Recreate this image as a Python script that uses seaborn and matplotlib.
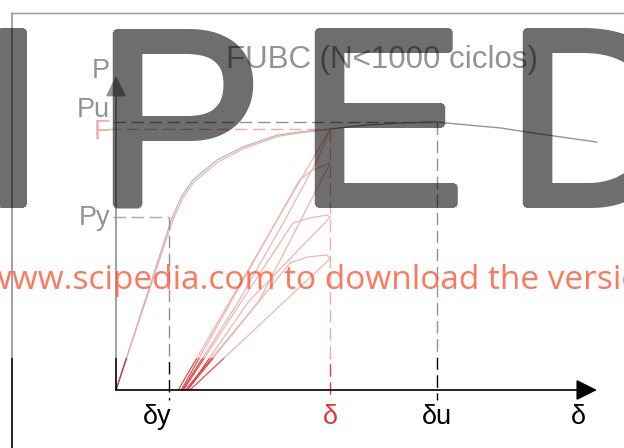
import matplotlib
matplotlib.use("Agg")
import matplotlib.pyplot as plt
import seaborn as sns
import pandas as pd
import numpy as np
from matplotlib.patches import Rectangle
from matplotlib.lines import Line2D

# characteristic values of the diagram (normalised: Pu = 1, delta_y ~ 1)
Py, F, Pu = 0.646, 0.974, 1.0
d_y, d_F, d_u, d_end = 1.04, 4.196, 6.294, 9.43
P_top = 1.172

# loading envelope up to F (two nearly coincident traces)
env_d = [0, 1.02, 1.10, 1.29, 1.51, 1.98, 2.49, 3.16, 3.61, 4.20]
env_p = [0, 0.597, 0.642, 0.724, 0.784, 0.858, 0.907, 0.951, 0.963, 0.974]
env2_d = [0, 1.05, 1.13, 1.32, 1.54, 2.01, 2.52, 3.19, 3.63, 4.18]
env2_p = [0, 0.597, 0.640, 0.720, 0.779, 0.852, 0.902, 0.947, 0.960, 0.972]

# black curve after F (peak at Pu, then softening)
post_d = [4.20, 4.92, 5.57, 6.29, 6.88, 7.53, 8.18, 9.43]
post_p = [0.974, 0.989, 0.996, 1.0, 0.989, 0.978, 0.959, 0.925]

# unloading / reloading loops (red)
loop1_d = [1.22, 4.20, 3.95, 3.30, 2.40, 1.30]
loop1_p = [0.0, 0.974, 0.86, 0.63, 0.33, 0.0]
loop2_d = [1.28, 3.60, 3.86, 4.20, 2.80, 1.36]
loop2_p = [0.0, 0.784, 0.821, 0.847, 0.33, 0.0]
loop3_d = [1.32, 3.47, 3.80, 4.14, 4.20, 2.60, 1.40]
loop3_p = [0.0, 0.623, 0.642, 0.653, 0.645, 0.33, 0.0]
loop4_d = [1.40, 3.41, 3.75, 4.14, 4.20, 1.45]
loop4_p = [0.0, 0.474, 0.496, 0.504, 0.49, 0.0]

sns.set_theme(style="white")
plt.rcParams["font.family"] = ["Liberation Sans", "DejaVu Sans"]

RED = "#e03a3a"
W, H = 624, 448
fig = plt.figure(figsize=(6.24, 4.48), dpi=100)
ax = fig.add_axes([0, 0, 1, 1])
ax.set_xlim(-116 / 51, 508 / 51)
ax.set_ylim(-58 / 268, 390 / 268)
ax.axis("off")


def curve(d, p, color, lw):
    df = pd.DataFrame({"d": d, "p": p})
    sns.lineplot(data=df, x="d", y="p", sort=False, estimator=None,
                 color=color, lw=lw, ax=ax, zorder=2)


curve(env_d, env_p, "#555555", 0.9)
curve(env2_d, env2_p, RED, 0.8)
curve(post_d, post_p, "black", 1.0)
for ld, lp in [(loop1_d, loop1_p), (loop2_d, loop2_p),
               (loop3_d, loop3_p), (loop4_d, loop4_p)]:
    curve(ld, lp, RED, 0.8)

# axes arrows
arrow = dict(arrowstyle="-|>,head_length=0.8,head_width=0.4", color="black",
             lw=1.2, mutation_scale=16, shrinkA=0, shrinkB=0)
ax.annotate("", xy=(d_end, 0), xytext=(0, 0), arrowprops=arrow, zorder=3)
ax.annotate("", xy=(0, P_top), xytext=(0, 0), arrowprops=arrow, zorder=3)

# dashed guides
dash = dict(lw=1.0, dashes=(9, 4))
ax.plot([-0.06, d_u], [Pu, Pu], color="black", **dash)
ax.plot([-0.16, d_F], [F, F], color=RED, **dash)
ax.plot([-0.06, d_y], [Py, Py], color="#333333", **dash)
ax.plot([d_y, d_y], [Py, -0.037], color="black", **dash)
ax.plot([d_F, d_F], [F, -0.037], color=RED, **dash)
ax.plot([d_u, d_u], [Pu, -0.037], color="black", **dash)

# labels
fs = 19.5
ax.text(-0.294, 1.164, "P", fontsize=fs, ha="center", va="baseline", color="black")
ax.text(-0.451, 1.019, "Pu", fontsize=fs, ha="center", va="baseline", color="black")
ax.text(-0.275, 0.937, "F", fontsize=fs, ha="center", va="baseline", color=RED)
ax.text(-0.412, 0.616, "Py", fontsize=fs, ha="center", va="baseline", color="black")
ax.text(0.80, -0.127, "δy", fontsize=fs, ha="center", va="baseline", color="black")
ax.text(d_F, -0.127, "δ", fontsize=fs, ha="center", va="baseline", color=RED)
ax.text(d_u, -0.127, "δu", fontsize=fs, ha="center", va="baseline", color="black")
ax.text(9.06, -0.127, "δ", fontsize=fs, ha="center", va="baseline", color="black")
ax.text(5.216, 1.2015, "FUBC (N<1000 ciclos)", fontsize=22.5, ha="center",
        va="baseline", color="black")

# outer frame of the scanned figure
fig.add_artist(Line2D([12 / W, 1], [1 - 13 / H, 1 - 13 / H], color="black",
                      lw=1.0, transform=fig.transFigure, zorder=1))
fig.add_artist(Line2D([12 / W, 12 / W], [0, 1 - 13 / H], color="black",
                      lw=1.2, transform=fig.transFigure, zorder=1))


def bold_gray(img, dpi, r=3, alpha=0.57):
    # thicken the glyphs a little and give them one flat translucent tone
    a = np.pad(img[..., 3], r)
    out = np.zeros_like(a)
    for dy in range(-r, r + 1):
        for dx in range(-r, r + 1):
            if dx * dx + dy * dy <= r * r:
                out = np.maximum(out, np.roll(np.roll(a, dy, 0), dx, 1))
    res = np.zeros(out.shape + (4,))
    res[..., 3] = out * alpha
    return res, -r, -r


# watermark: pale band, big letters, red banner
fig.add_artist(Rectangle((0, 1 - 358 / H), 1, 358 / H, transform=fig.transFigure,
                         facecolor="white", edgecolor="none", alpha=0.58, zorder=2))
for ch, cx in [("I", 11.5), ("P", 179), ("E", 381), ("D", 596)]:
    t = fig.text(cx / W, 1 - 205 / H, ch, fontsize=182, ha="center", va="baseline",
                 color="black", zorder=4, family="Liberation Sans")
    t.set_agg_filter(bold_gray)
fig.text(-14 / W, 1 - 289 / H, "www.scipedia.com to download the version of record",
         fontsize=24, family="Open Sans", color="#ff5533", alpha=0.8, zorder=5,
         ha="left", va="baseline")

fig.savefig("out.png", dpi=100)
